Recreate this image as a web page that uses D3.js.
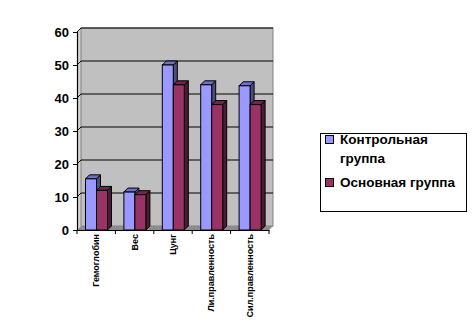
<!DOCTYPE html>
<html>
<head>
<meta charset="utf-8">
<script src="https://cdnjs.cloudflare.com/ajax/libs/d3/7.8.5/d3.min.js"></script>
<style>
  body { margin: 0; background: #fff; }
  text { font-family: "Liberation Sans", Arial, sans-serif; }
</style>
</head>
<body>
<div id="chart"></div>
<script>
const categories = ["Гемоглобин", "Вес", "Цунг", "Ли.правленность", "Сил.правленность"];
const seriesNames = ["Контрольная группа", "Основная группа"];
const controlValues = [15.5, 11.5, 50, 44, 43.7];
const mainValues = [12, 10.7, 44, 38, 38];
const yTicks = [0, 10, 20, 30, 40, 50, 60];

const width = 476;
const height = 336;
const margin = { top: 32, left: 77, right: 207, bottom: 106 };
const dx = 4, dy = 4; // 3D depth offset

const colors = ["#9999ff", "#993366"];
const sideColors = ["#4d4d80", "#4d1a33"];
const topColors = ["#7070c0", "#73264d"];

const svg = d3.select("#chart")
  .append("svg")
  .attr("width", width)
  .attr("height", height);

const x0 = d3.scaleBand()
  .domain(categories)
  .range([margin.left, width - margin.right])
  .padding(0);

const x1 = d3.scaleBand()
  .domain([0, 1])
  .range([8.5, 30.5])
  .padding(0);

const y = d3.scaleLinear()
  .domain([0, 60])
  .range([height - margin.bottom, height - margin.bottom - 198]);

const x0px = margin.left, x1px = width - margin.right;
const y0px = y(0);

// left side wall
svg.append("path")
  .attr("d", `M${x0px},${y(60)} L${x0px + dx},${y(60) - dy} L${x0px + dx},${y0px - dy} L${x0px},${y0px} Z`)
  .attr("fill", "#d4d4d4");

// back wall
svg.append("rect")
  .attr("x", x0px + dx)
  .attr("y", y(60) - dy)
  .attr("width", x1px - x0px)
  .attr("height", y(0) - y(60))
  .attr("fill", "#c0c0c0")
  .attr("stroke", "#808080")
  .attr("stroke-width", 1);

// floor
svg.append("path")
  .attr("d", `M${x0px},${y0px} L${x0px + dx},${y0px - dy} L${x1px + dx},${y0px - dy} L${x1px},${y0px} Z`)
  .attr("fill", "#8c8c8c");

// gridlines on the side wall and back wall
const grid = svg.append("g");
grid.selectAll("polyline")
  .data(yTicks.filter(d => d > 0))
  .enter()
  .append("polyline")
  .attr("points", d => `${x0px},${y(d)} ${x0px + dx},${y(d) - dy} ${x1px + dx},${y(d) - dy}`)
  .attr("fill", "none")
  .attr("stroke", "#000")
  .attr("stroke-width", 1);

// bars
const series = [controlValues, mainValues];
const groups = svg.append("g");
categories.forEach((c, i) => {
  series.forEach((vals, s) => {
    const v = vals[i];
    const bx = x0(c) + x1(s);
    const bw = x1.bandwidth();
    const by = y(v);
    const g = groups.append("g");
    g.append("path")
      .attr("d", `M${bx + bw},${by} L${bx + bw + dx},${by - dy} L${bx + bw + dx},${y0px - dy} L${bx + bw},${y0px} Z`)
      .attr("fill", sideColors[s])
      .attr("stroke", "#000")
      .attr("stroke-width", 1);
    g.append("path")
      .attr("d", `M${bx},${by} L${bx + dx},${by - dy} L${bx + bw + dx},${by - dy} L${bx + bw},${by} Z`)
      .attr("fill", topColors[s])
      .attr("stroke", "#000")
      .attr("stroke-width", 1);
    g.append("rect")
      .attr("x", bx)
      .attr("y", by)
      .attr("width", bw)
      .attr("height", y0px - by)
      .attr("fill", colors[s])
      .attr("stroke", "#000")
      .attr("stroke-width", 1);
  });
});

// y axis
const yAxis = svg.append("g")
  .attr("transform", `translate(${x0px},0)`)
  .call(d3.axisLeft(y).tickValues(yTicks).tickSize(4).tickPadding(4));
yAxis.select(".domain").attr("stroke", "#000").attr("stroke-width", 1.2);
yAxis.selectAll("text")
  .style("font-size", "13px")
  .style("font-weight", "bold")
  .attr("fill", "#000");

// x axis
const xAxis = svg.append("g")
  .attr("transform", `translate(0,${y0px})`)
  .call(d3.axisBottom(x0).tickSize(0).tickFormat(""));
xAxis.select(".domain").attr("stroke", "#000").attr("stroke-width", 1.2);
xAxis.selectAll(".bound")
  .data(d3.range(categories.length + 1))
  .enter()
  .append("line")
  .attr("class", "bound")
  .attr("x1", i => x0px + i * x0.step())
  .attr("x2", i => x0px + i * x0.step())
  .attr("y1", 0)
  .attr("y2", 4)
  .attr("stroke", "#000");

svg.append("g")
  .selectAll("text")
  .data(categories)
  .enter()
  .append("text")
  .attr("transform", d => `translate(${x0(d) + x0.bandwidth() / 2 + 3},${y0px + 4}) rotate(-90)`)
  .attr("text-anchor", "end")
  .style("font-size", "9px")
  .style("font-weight", "bold")
  .text(d => d);

// legend
const legend = svg.append("g");
legend.append("rect")
  .attr("x", 320.5)
  .attr("y", 133.5)
  .attr("width", 146)
  .attr("height", 78)
  .attr("fill", "#fff")
  .attr("stroke", "#000");

const legendRows = [
  { s: 0, lines: ["Контрольная", "группа"], y: 135 },
  { s: 1, lines: [seriesNames[1]], y: 178 }
];
legendRows.forEach(r => {
  legend.append("rect")
    .attr("x", 325.5)
    .attr("y", r.y + 0.5)
    .attr("width", 8)
    .attr("height", 8)
    .attr("fill", colors[r.s])
    .attr("stroke", "#000");
  r.lines.forEach((t, k) => {
    legend.append("text")
      .attr("x", 340)
      .attr("y", r.y + 9 + k * 19)
      .style("font-size", "13.5px")
      .style("font-weight", "bold")
      .text(t);
  });
});
</script>
</body>
</html>
